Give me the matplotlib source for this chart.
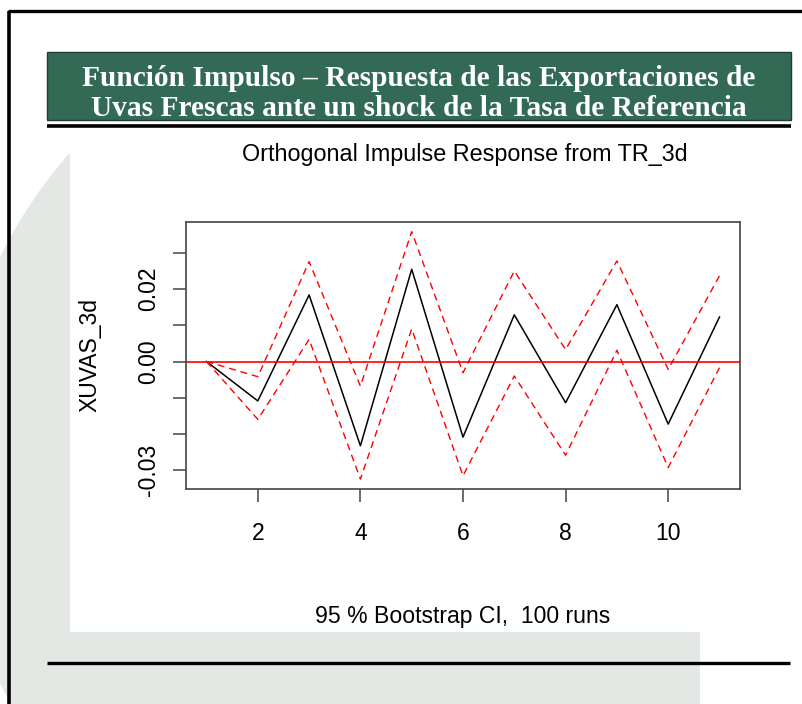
import numpy as np
import matplotlib.pyplot as plt
from matplotlib.patches import Rectangle, Wedge, Polygon

W, H = 803, 704

# impulse response of XUVAS_3d to a TR_3d shock, with bootstrap band
horizon = np.arange(1, 12)
irf = [0.0, -0.0109, 0.0184, -0.0233, 0.0255, -0.0209, 0.0129, -0.0114, 0.0157, -0.0173, 0.0123]
upper = [0.0, -0.0042, 0.0276, -0.0068, 0.0359, -0.0031, 0.0250, 0.0033, 0.0278, -0.0022, 0.0237]
lower = [0.0, -0.0160, 0.0061, -0.0325, 0.0090, -0.0316, -0.0040, -0.0259, 0.0031, -0.0293, -0.0017]

x_ticks = [2, 4, 6, 8, 10]
y_ticks = [-0.03, -0.02, -0.01, 0.0, 0.01, 0.02, 0.03]
y_tick_labels = ['-0.03', '', '', '0.00', '', '0.02', '']

heading = ['Función Impulso – Respuesta de las Exportaciones de',
           'Uvas Frescas ante un shock de la Tasa de Referencia']
plot_title = 'Orthogonal Impulse Response from TR_3d'
y_name = 'XUVAS_3d'
ci_note = '95 % Bootstrap CI,  100 runs'

SANS = 'Liberation Sans'
SERIF = 'Liberation Serif'
GREEN = '#336a56'
WM = '#e4e8e4'

fig = plt.figure(figsize=(W / 100, H / 100), dpi=100)
fig.patch.set_facecolor('white')

# page layer in pixel coordinates
pg = fig.add_axes([0, 0, 1, 1], zorder=0)
pg.set_xlim(0, W)
pg.set_ylim(H, 0)
pg.axis('off')

# faint watermark behind the page (left arc and lower band)
pg.add_patch(Wedge((430, 470), 480, 135, 225, width=120, facecolor=WM, edgecolor='none'))
pg.add_patch(Polygon([(12, 632), (700, 632), (700, 704), (12, 704)], closed=True,
                     facecolor=WM, edgecolor='none'))
pg.add_patch(Rectangle((70, 128), 720, 504, facecolor='white', edgecolor='none'))

# page border
pg.plot([9, 9], [11, H], color='black', lw=2.6, solid_capstyle='butt')
pg.plot([8, W], [11, 11], color='black', lw=2.4, solid_capstyle='butt')

# green heading box
pg.add_patch(Rectangle((47, 52), 744, 68, facecolor=GREEN, edgecolor='#1f3d32', lw=1.0))
pg.plot([47, 791], [125.5, 125.5], color='black', lw=2.6, solid_capstyle='butt')
for i, line in enumerate(heading):
    pg.text(419, 78 + i * 30, line, color='white', fontsize=21.2, fontweight='bold',
            family=SERIF, ha='center', va='center')

pg.text(465, 155, plot_title, fontsize=16.8, family=SANS, ha='center', va='center')
pg.text(90, 355, y_name, fontsize=16.5, family=SANS, ha='center', va='center', rotation=90)
pg.text(463, 617, ci_note, fontsize=16.6, family=SANS, ha='center', va='center')
pg.plot([47, 790], [663, 663], color='black', lw=2.4, solid_capstyle='butt')

# the impulse response panel
left, right, top, bottom = 186, 740, 221.7, 489
ax = fig.add_axes([left / W, (H - bottom) / H, (right - left) / W, (bottom - top) / H], zorder=1)
ax.set_facecolor('white')
ax.plot(horizon, irf, color='black', lw=1.1)
ax.plot(horizon, upper, color='red', lw=1.0, dashes=(5, 3.5))
ax.plot(horizon, lower, color='red', lw=1.0, dashes=(5, 3.5))
ax.axhline(0, color='red', lw=1.2)
ax.margins(x=0.04, y=0.04)

ax.set_xticks(x_ticks)
ax.set_xticklabels([str(t) for t in x_ticks])
ax.set_yticks(y_ticks)
ax.set_yticklabels(y_tick_labels, rotation=90, va='center')
ax.tick_params(direction='out', length=9.5, width=1.1, color='#444444', labelsize=16.5)
ax.tick_params(axis='x', pad=14)
ax.tick_params(axis='y', pad=9)
for lab in ax.get_xticklabels() + ax.get_yticklabels():
    lab.set_family(SANS)
for sp in ax.spines.values():
    sp.set_color('#444444')
    sp.set_linewidth(1.2)

fig.savefig('out.png', dpi=100)
